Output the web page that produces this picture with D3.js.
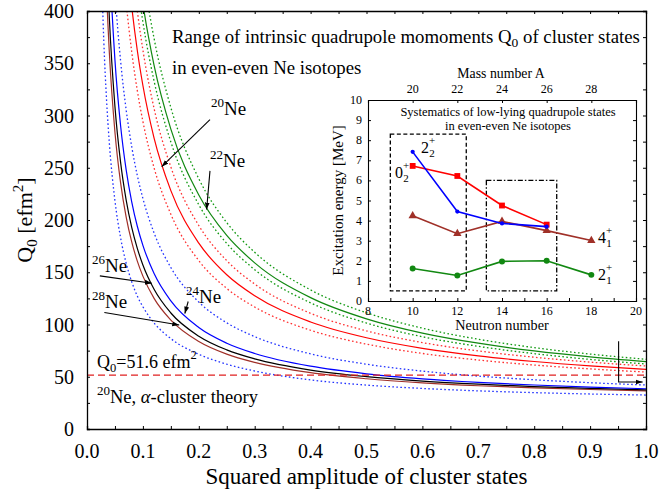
<!DOCTYPE html>
<html lang="en">
<head>
<meta charset="UTF-8">
<title>Q0 of cluster states</title>
<style>
  body { margin: 0; background: #fff; }
  svg { display: block; font-family: 'Liberation Serif', 'Times New Roman', serif; }
</style>
</head>
<body>
<svg id="chart" width="659" height="492"></svg>
<script src="https://d3js.org/d3.v7.min.js"></script>
<script>
// squared amplitude grid shared by all curves
const xGrid = [0.025, 0.03, 0.035, 0.04, 0.05, 0.06, 0.07, 0.08, 0.09, 0.1, 0.12, 0.15, 0.2, 0.25, 0.3, 0.4, 0.5, 0.6, 0.7, 0.8, 0.9, 1.0];

// Q0 values [efm^2] (null = far above the frame)
const blueLo  = [457, 372, 314.5, 273.5, 218.4, 183.3, 158.8, 140.9, 127.2, 117, 101.5, 86.5, 71.5, 62, 55.5, 47, 42, 38.8, 36.5, 34.8, 33.5, 32.5];
const brown   = [625, 500, 418, 360, 284, 236, 203, 179, 160.7, 146.3, 125, 104.2, 83.8, 71.7, 63.8, 53.9, 48.1, 44.2, 41.4, 39.4, 37.8, 36.5];
const black   = [692, 550, 458, 393, 308.5, 255.6, 219.3, 192.9, 172.8, 157, 133.7, 111, 88.8, 75.7, 67.1, 56.4, 50.1, 45.9, 42.9, 40.6, 38.9, 37.5];
const blue    = [null, 644, 532, 454, 353, 290.7, 248.2, 217.4, 194, 175.7, 148.8, 122.6, 97.1, 82.1, 72.3, 60.1, 52.8, 48, 44.6, 42.1, 40.1, 38.5];
const blueHi  = [null, 683, 589, 518, 419, 352.8, 305.6, 270.2, 242.6, 220.6, 187.6, 154.5, 121.5, 101.6, 88.4, 71.9, 62, 55.4, 50.6, 47.1, 44.3, 42.1];
const redLo   = [null, null, null, null, 560.7, 471.9, 408.5, 360.9, 323.9, 294.3, 249.9, 205.5, 161.1, 134.5, 116.7, 94.5, 81.2, 72.3, 66, 61.2, 57.5, 54.5];
const red     = [null, null, null, null, null, 529.9, 458, 404.2, 362.2, 328.7, 278.4, 228.1, 177.8, 147.6, 127.5, 102.4, 87.3, 77.2, 70, 64.6, 60.4, 57.1];
const redHi   = [null, null, null, null, null, null, 506.7, 446.7, 400, 362.7, 306.7, 250.7, 194.7, 161.1, 138.7, 110.7, 93.9, 82.7, 74.7, 68.7, 64, 60.3];
const greenLo = [null, null, null, null, null, null, null, 471.1, 426.2, 389.5, 333, 274.7, 214.6, 177.6, 152.5, 120.7, 101.4, 88.3, 79.1, 72.1, 66.6, 62.2];
const green   = [null, null, null, null, null, null, null, 492.5, 445.5, 407, 347.9, 286.9, 223.9, 185.2, 159, 125.7, 105.4, 91.8, 82.1, 74.7, 69, 64.4];
const greenHi = [null, null, null, null, null, null, null, null, 479.4, 437.7, 373.7, 307.6, 239.5, 197.5, 169.1, 133.1, 111.2, 96.5, 85.9, 77.9, 71.7, 66.7];
const alphaQ0 = 51.6;

// inset: excitation energies [MeV] vs neutron number
const neutrons = [10, 12, 14, 16, 18];
const e2plus2 = [7.42, 4.45, 3.86, 3.70, null];
const e0plus2 = [6.72, 6.22, 4.75, 3.80, null];
const e4plus1 = [4.24, 3.35, 3.96, 3.50, 3.01];
const e2plus1 = [1.62, 1.27, 1.97, 2.00, 1.30];
const massTicks = [20, 22, 24, 26, 28];

const svg = d3.select("#chart");
const W = 659, H = 492;
const m = {left: 87, right: 646, top: 11, bottom: 429};

const x = d3.scaleLinear().domain([0, 1]).range([m.left, m.right]);
const y = d3.scaleLinear().domain([0, 400]).range([m.bottom, m.top]);

const defs = svg.append("defs");
defs.append("clipPath").attr("id", "plotclip")
  .append("rect").attr("x", m.left).attr("y", m.top)
  .attr("width", m.right - m.left).attr("height", m.bottom - m.top);
defs.append("marker").attr("id", "arr")
  .attr("viewBox", "0 0 10 10").attr("refX", 10).attr("refY", 5)
  .attr("markerWidth", 7).attr("markerHeight", 7).attr("orient", "auto-start-reverse")
  .attr("markerUnits", "userSpaceOnUse")
  .append("path").attr("d", "M0,1.5 L10,5 L0,8.5 Z").attr("fill", "#000");

svg.append("rect").attr("width", W).attr("height", H).attr("fill", "#fff");

// curves
const curves = [
  {v: blueLo, c: "#2233ff", dot: true},
  {v: blueHi, c: "#2233ff", dot: true},
  {v: redLo, c: "#ff3030", dot: true},
  {v: redHi, c: "#ff3030", dot: true},
  {v: greenLo, c: "#119911", dot: true},
  {v: greenHi, c: "#119911", dot: true},
  {v: green, c: "#118811"},
  {v: red, c: "#ff0000"},
  {v: brown, c: "#a03028"},
  {v: black, c: "#000000"},
  {v: blue, c: "#0000ff"}
];

const line = d3.line()
  .defined(d => d[1] != null)
  .x(d => x(d[0])).y(d => y(d[1]))
  .curve(d3.curveMonotoneX);

const cg = svg.append("g").attr("clip-path", "url(#plotclip)");
curves.forEach(k => {
  cg.append("path")
    .attr("d", line(xGrid.map((g, i) => [g, k.v[i]])))
    .attr("fill", "none").attr("stroke", k.c)
    .attr("stroke-width", k.dot ? 1.3 : 1.2)
    .attr("stroke-dasharray", k.dot ? "1.6,2.4" : null);
});

cg.append("line")
  .attr("x1", x(0)).attr("x2", x(1)).attr("y1", y(alphaQ0)).attr("y2", y(alphaQ0))
  .attr("stroke", "#e02020").attr("stroke-width", 1.2).attr("stroke-dasharray", "7,4");

// frame + ticks
function frameAxes(g, xs, ys, xTicks, yTicks, len) {
  g.append("g").attr("transform", `translate(0,${ys.range()[0]})`)
    .call(d3.axisBottom(xs).tickValues(xTicks).tickSize(-len).tickFormat(""));
  g.append("g").attr("transform", `translate(0,${ys.range()[1]})`)
    .call(d3.axisTop(xs).tickValues(xTicks).tickSize(-len).tickFormat(""));
  g.append("g").attr("transform", `translate(${xs.range()[0]},0)`)
    .call(d3.axisLeft(ys).tickValues(yTicks).tickSize(-len).tickFormat(""));
  g.append("g").attr("transform", `translate(${xs.range()[1]},0)`)
    .call(d3.axisRight(ys).tickValues(yTicks).tickSize(-len).tickFormat(""));
  g.selectAll(".domain").attr("stroke", "#000").attr("stroke-width", 1.3);
  g.selectAll(".tick line").attr("stroke", "#000");
}

const ax = svg.append("g");
frameAxes(ax, x, y, d3.range(0, 1.0001, 0.05), d3.range(0, 401, 25), 3);

svg.append("g").selectAll("text").data(d3.range(0, 1.0001, 0.1)).join("text")
  .attr("x", d => x(d)).attr("y", 458).attr("text-anchor", "middle")
  .attr("font-size", 20).text(d => d.toFixed(1));
svg.append("g").selectAll("text").data(d3.range(0, 401, 50)).join("text")
  .attr("x", 74).attr("y", d => y(d) + 7).attr("text-anchor", "end")
  .attr("font-size", 20).text(d => d);

svg.append("text").attr("x", (m.left + m.right) / 2).attr("y", 484)
  .attr("text-anchor", "middle").attr("font-size", 23)
  .text("Squared amplitude of cluster states");

const yl = svg.append("text").attr("transform", `translate(32,${(m.top + m.bottom) / 2}) rotate(-90)`)
  .attr("text-anchor", "middle").attr("font-size", 22);
yl.append("tspan").text("Q");
yl.append("tspan").attr("font-size", 15).attr("dy", 5).text("0");
yl.append("tspan").attr("dy", -5).text(" [efm");
yl.append("tspan").attr("font-size", 15).attr("dy", -9).text("2");
yl.append("tspan").attr("dy", 9).text("]");

// title
const t1 = svg.append("text").attr("x", 172).attr("y", 43).attr("font-size", 18.8);
t1.append("tspan").text("Range of intrinsic quadrupole momoments Q");
t1.append("tspan").attr("font-size", 13.5).attr("dy", 4).text("0");
t1.append("tspan").attr("dy", -4).text(" of cluster states");
svg.append("text").attr("x", 172).attr("y", 74).attr("font-size", 18.8)
  .text("in even-even Ne isotopes");

// isotope labels with arrows
function isoLabel(mass, tx, ty, from, to) {
  const t = svg.append("text").attr("x", tx).attr("y", ty).attr("font-size", 19);
  t.append("tspan").attr("font-size", 13).attr("dy", -8).text(mass);
  t.append("tspan").attr("dy", 8).text("Ne");
  svg.append("line")
    .attr("x1", x(from[0])).attr("y1", y(from[1]))
    .attr("x2", x(to[0])).attr("y2", y(to[1]))
    .attr("stroke", "#000").attr("stroke-width", 1.1)
    .attr("marker-end", "url(#arr)");
}
isoLabel("20", 211, 115, [0.22, 296], [0.1336, 251]);
isoLabel("22", 210, 167, [0.22, 247], [0.214, 210]);
isoLabel("26", 92, 272, [0.023, 146.5], [0.116, 139.5]);
isoLabel("28", 92, 308, [0.031, 111.5], [0.165, 99.5]);
isoLabel("24", 186, 303, [0.181, 122], [0.175, 110.5]);

// alpha cluster line labels
const qa = svg.append("text").attr("x", 97).attr("y", 368).attr("font-size", 18);
qa.append("tspan").text("Q");
qa.append("tspan").attr("font-size", 12.5).attr("dy", 4).text("0");
qa.append("tspan").attr("dy", -4).text("=51.6 efm");
qa.append("tspan").attr("font-size", 12.5).attr("dy", -9).text("2");
const qb = svg.append("text").attr("x", 97).attr("y", 403).attr("font-size", 18.5);
qb.append("tspan").attr("font-size", 13).attr("dy", -8).text("20");
qb.append("tspan").attr("dy", 8).text("Ne, ");
qb.append("tspan").attr("font-style", "italic").text("α");
qb.append("tspan").text("-cluster theory");

// L-shaped arrow at the right edge
svg.append("path")
  .attr("d", `M${x(0.951)},${y(84)} V${y(45)} H${x(0.994)}`)
  .attr("fill", "none").attr("stroke", "#000").attr("stroke-width", 1.1)
  .attr("marker-end", "url(#arr)");

// ---------- inset ----------
const ix = d3.scaleLinear().domain([8, 20]).range([368, 636]);
const iy = d3.scaleLinear().domain([0, 10]).range([301, 100]);

svg.append("rect").attr("x", 368).attr("y", 100).attr("width", 268).attr("height", 201)
  .attr("fill", "#fff");

const ig = svg.append("g");
ig.append("g").attr("transform", `translate(0,${iy(0)})`)
  .call(d3.axisBottom(ix).tickValues(d3.range(8, 20.1, 1)).tickSize(-3).tickFormat(""));
ig.append("g").attr("transform", `translate(0,${iy(10)})`)
  .call(d3.axisTop(ix).tickValues(massTicks.map(a => a - 10)).tickSize(-3).tickFormat(""));
ig.append("g").attr("transform", `translate(${ix(8)},0)`)
  .call(d3.axisLeft(iy).tickValues(d3.range(0, 10.1, 1)).tickSize(-3).tickFormat(""));
ig.append("g").attr("transform", `translate(${ix(20)},0)`)
  .call(d3.axisRight(iy).tickValues(d3.range(0, 10.1, 1)).tickSize(-3).tickFormat(""));
ig.selectAll(".domain").attr("stroke", "#000").attr("stroke-width", 1.1);

ig.append("g").selectAll("text").data(d3.range(8, 20.1, 2)).join("text")
  .attr("x", d => ix(d)).attr("y", 315).attr("text-anchor", "middle")
  .attr("font-size", 12).text(d => d);
ig.append("g").selectAll("text").data(d3.range(0, 10.1, 1)).join("text")
  .attr("x", 362).attr("y", d => iy(d) + 4).attr("text-anchor", "end")
  .attr("font-size", 12).text(d => d);
ig.append("g").selectAll("text").data(massTicks).join("text")
  .attr("x", d => ix(d - 10)).attr("y", 93).attr("text-anchor", "middle")
  .attr("font-size", 12).text(d => d);

ig.append("text").attr("x", 502).attr("y", 330).attr("text-anchor", "middle")
  .attr("font-size", 14.2).text("Neutron number");
ig.append("text").attr("x", 501).attr("y", 78).attr("text-anchor", "middle")
  .attr("font-size", 13.8).text("Mass number A");
ig.append("text").attr("transform", `translate(343,${iy(5)}) rotate(-90)`)
  .attr("text-anchor", "middle").attr("font-size", 15).text("Excitation energy [MeV]");
ig.append("text").attr("x", 508).attr("y", 115.5).attr("text-anchor", "middle")
  .attr("font-size", 12.5).text("Systematics of low-lying quadrupole states");
ig.append("text").attr("x", 508).attr("y", 129.5).attr("text-anchor", "middle")
  .attr("font-size", 12.5).text("in even-even Ne isotopes");

// dashed boxes
ig.append("rect").attr("x", ix(9.0)).attr("y", iy(8.3))
  .attr("width", ix(12.4) - ix(9.0)).attr("height", iy(0.5) - iy(8.3))
  .attr("fill", "none").attr("stroke", "#000").attr("stroke-width", 1.3).attr("stroke-dasharray", "4,2.5");
ig.append("rect").attr("x", ix(13.3)).attr("y", iy(6.0))
  .attr("width", ix(16.45) - ix(13.3)).attr("height", iy(0.5) - iy(6.0))
  .attr("fill", "none").attr("stroke", "#000").attr("stroke-width", 1.3).attr("stroke-dasharray", "5,2,1.5,2");

const iline = d3.line().defined(d => d[1] != null).x(d => ix(d[0])).y(d => iy(d[1]));
const series = [
  {v: e4plus1, c: "#a03028", sym: d3.symbolTriangle, size: 30},
  {v: e2plus1, c: "#118811", sym: d3.symbolCircle, size: 28},
  {v: e0plus2, c: "#ff0000", sym: d3.symbolSquare, size: 34},
  {v: e2plus2, c: "#0000ff", sym: d3.symbolCircle, size: 14}
];
series.forEach(s => {
  const pts = neutrons.map((n, i) => [n, s.v[i]]).filter(p => p[1] != null);
  ig.append("path").attr("d", iline(pts)).attr("fill", "none")
    .attr("stroke", s.c).attr("stroke-width", 1.6);
  ig.append("g").selectAll("path").data(pts).join("path")
    .attr("transform", p => `translate(${ix(p[0])},${iy(p[1])})`)
    .attr("d", d3.symbol().type(s.sym).size(s.size)).attr("fill", s.c);
});

function stateLabel(px, py, j, k) {
  const t = ig.append("text").attr("x", px).attr("y", py).attr("font-size", 16);
  t.append("tspan").text(j);
  t.append("tspan").attr("font-size", 11).attr("dy", -9).text("+");
  t.append("tspan").attr("font-size", 11).attr("dx", -6).attr("dy", 13).text(k);
}
stateLabel(421, 153, "2", "2");
stateLabel(395, 178, "0", "2");
stateLabel(598, 243, "4", "1");
stateLabel(598, 280, "2", "1");
</script>
</body>
</html>
